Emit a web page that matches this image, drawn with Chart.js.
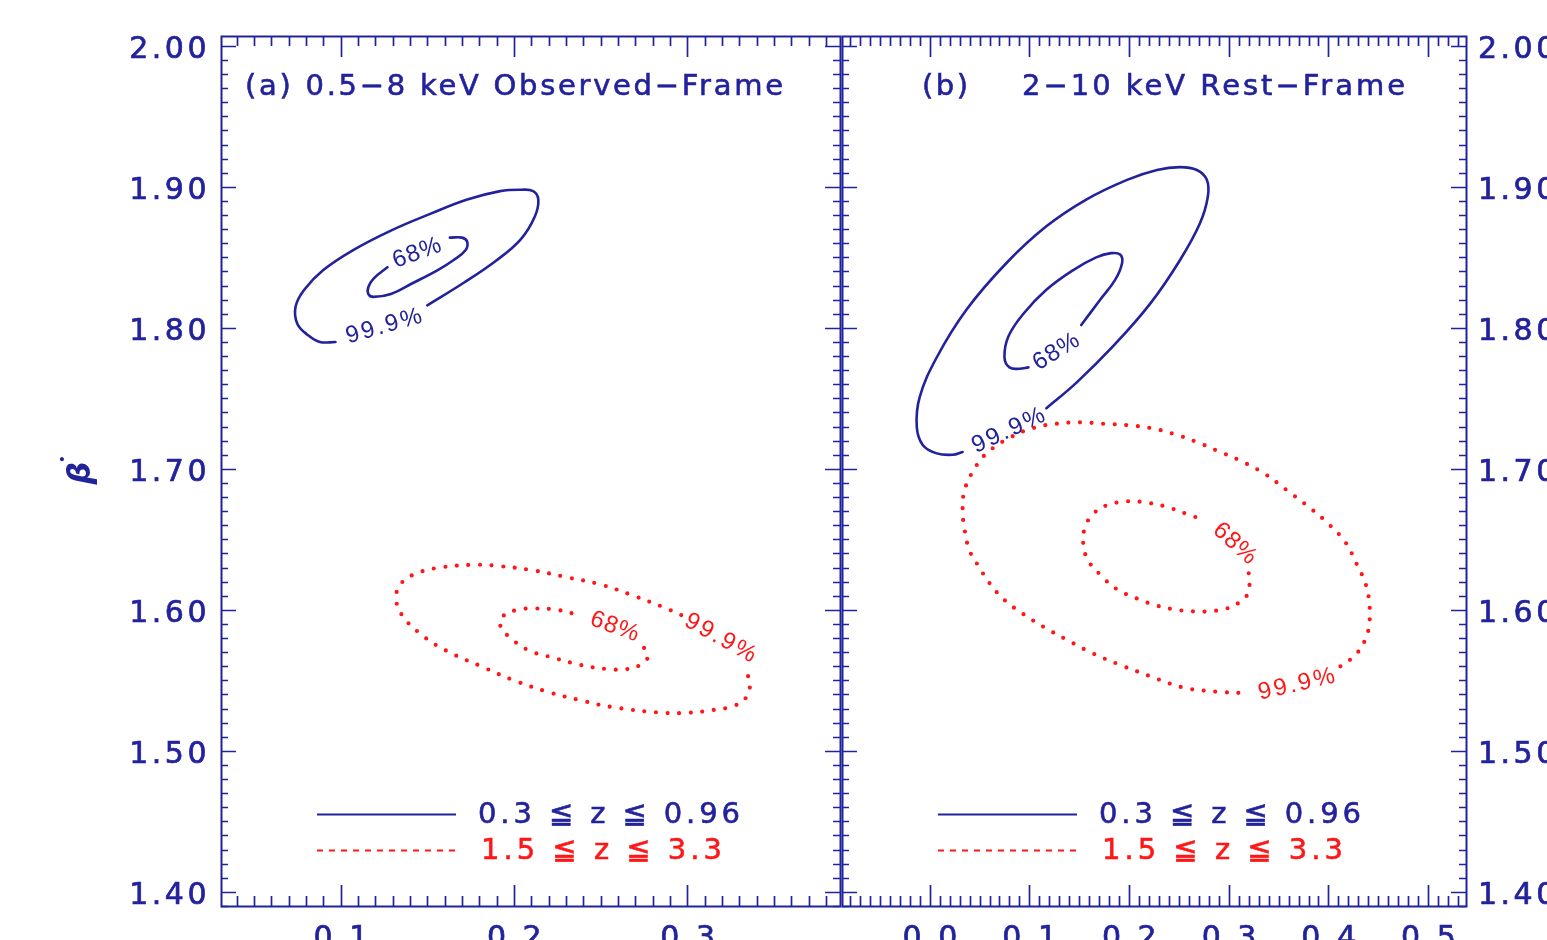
<!DOCTYPE html>
<html>
<head>
<meta charset="utf-8">
<script src="https://cdn.jsdelivr.net/npm/chart.js@4"></script>
<style>
  html, body { margin: 0; padding: 0; background: #ffffff; }
  #wrap { position: relative; width: 1547px; height: 940px; overflow: hidden; background: #ffffff; }
  #wrap canvas { position: absolute; left: 0; top: 0; pointer-events: none; }
</style>
</head>
<body>
<div id="wrap">
  <canvas id="panelA" width="1547" height="940"></canvas>
  <canvas id="panelB" width="1547" height="940"></canvas>
</div>
<script>
// ---------------- axes ----------------
const yTicks  = [1.40, 1.50, 1.60, 1.70, 1.80, 1.90, 2.00];
const xTicksA = [0.1, 0.2, 0.3];
const xTicksB = [0.0, 0.1, 0.2, 0.3, 0.4, 0.5];
const yRange  = [1.39, 2.007];
const xRangeA = [0.031, 0.388];
const xRangeB = [-0.088, 0.538];

// ---------------- (a) 0.5-8 keV observed frame ----------------
// 0.3 <= z <= 0.96
const obsLowZ999X = [0.150,0.171,0.190,0.204,0.212,0.214,0.211,0.204,0.192,0.173,0.152,0.129,0.107,0.090,0.079,0.074,0.075,0.081,0.088,0.097];
const obsLowZ999Y = [1.816,1.832,1.848,1.863,1.879,1.891,1.897,1.898,1.897,1.891,1.881,1.869,1.855,1.841,1.827,1.815,1.803,1.795,1.790,1.790];
const obsLowZ68X  = [0.163,0.170,0.173,0.172,0.165,0.156,0.142,0.129,0.119,0.116,0.116,0.119,0.127];
const obsLowZ68Y  = [1.864,1.864,1.861,1.855,1.848,1.841,1.832,1.824,1.822,1.824,1.829,1.835,1.843];
// 1.5 <= z <= 3.3
const obsHighZ999X = [0.335,0.336,0.334,0.327,0.315,0.300,0.286,0.257,0.238,0.219,0.200,0.181,0.161,0.146,0.135,0.132,0.135,0.144,0.157,0.177,0.192,0.211,0.231,0.250,0.269,0.286,0.297];
const obsHighZ999Y = [1.553,1.545,1.538,1.532,1.529,1.527,1.527,1.531,1.536,1.542,1.550,1.560,1.571,1.583,1.597,1.609,1.619,1.626,1.630,1.632,1.631,1.628,1.623,1.618,1.610,1.602,1.596];
const obsHighZ68X  = [0.275,0.277,0.273,0.265,0.254,0.238,0.223,0.209,0.198,0.192,0.194,0.202,0.211,0.225,0.238];
const obsHighZ68Y  = [1.573,1.566,1.561,1.558,1.558,1.561,1.566,1.571,1.580,1.589,1.596,1.600,1.601,1.600,1.596];

// ---------------- (b) 2-10 keV rest frame ----------------
const restLowZ999X = [0.117,0.147,0.184,0.221,0.251,0.271,0.279,0.278,0.268,0.251,0.228,0.198,0.157,0.117,0.077,0.037,0.007,-0.010,-0.013,-0.007,0.007,0.023,0.033];
const restLowZ999Y = [1.743,1.761,1.787,1.817,1.848,1.874,1.893,1.905,1.912,1.914,1.912,1.905,1.891,1.872,1.846,1.813,1.779,1.751,1.730,1.717,1.711,1.710,1.712];
const restLowZ68X  = [0.152,0.171,0.186,0.193,0.191,0.182,0.167,0.144,0.117,0.094,0.079,0.075,0.080,0.090,0.099];
const restLowZ68Y  = [1.802,1.820,1.834,1.846,1.852,1.853,1.850,1.841,1.827,1.810,1.794,1.779,1.772,1.771,1.772];
const restHighZ999X = [0.412,0.427,0.437,0.441,0.441,0.437,0.428,0.417,0.400,0.382,0.358,0.335,0.311,0.288,0.268,0.244,0.221,0.198,0.174,0.151,0.127,0.104,0.080,0.057,0.044,0.035,0.033,0.035,0.040,0.049,0.060,0.075,0.094,0.114,0.137,0.164,0.191,0.221,0.254,0.288,0.315];
const restHighZ999Y = [1.560,1.568,1.579,1.590,1.605,1.619,1.633,1.648,1.661,1.672,1.685,1.697,1.706,1.713,1.719,1.725,1.729,1.731,1.732,1.733,1.732,1.729,1.722,1.711,1.699,1.685,1.671,1.657,1.642,1.631,1.619,1.607,1.597,1.588,1.579,1.569,1.561,1.553,1.545,1.542,1.541];
const restHighZ68X  = [0.320,0.321,0.318,0.310,0.298,0.281,0.264,0.248,0.228,0.208,0.187,0.171,0.159,0.154,0.156,0.164,0.177,0.198,0.218,0.238,0.258,0.274];
const restHighZ68Y  = [1.626,1.619,1.610,1.605,1.601,1.599,1.599,1.600,1.603,1.608,1.615,1.625,1.635,1.647,1.659,1.668,1.674,1.677,1.676,1.673,1.668,1.664];

// contour level labels: text, anchor (data units)
const levelText    = ['68%', '99.9%', '68%', '99.9%'];
const obsLabelX    = [0.144, 0.125, 0.258, 0.319];
const obsLabelY    = [1.853, 1.801, 1.588, 1.580];
const restLabelX   = [0.127, 0.079, 0.306, 0.368];
const restLabelY   = [1.783, 1.727, 1.647, 1.547];

const legendText = ['0.3 \u2266 z \u2266 0.96', '1.5 \u2266 z \u2266 3.3'];
const titleA = '(a) 0.5\u22128 keV Observed\u2212Frame';
const titleB = ['(b)', '2\u221210 keV Rest\u2212Frame'];
const yTitle = '\u03B2';

// ---------------- styling ----------------
const BLUE = 'rgb(34,34,156)';
const RED  = 'rgb(255,22,22)';
const TICK_FONT = '"DejaVu Sans", sans-serif';

function pts(xs, ys) { return xs.map((x, i) => ({ x: x, y: ys[i] })); }

function contour(xs, ys, color, dotted) {
  return {
    data: pts(xs, ys),
    showLine: true,
    borderColor: color,
    backgroundColor: color,
    borderWidth: dotted ? 4.2 : 2.6,
    borderDash: dotted ? [0, 11.6] : [],
    borderCapStyle: 'round',
    borderJoinStyle: 'round',
    tension: 0.4,
    pointRadius: 0,
    pointHoverRadius: 0,
    fill: false
  };
}

// text with letter spacing stretched to a given visible width
function fitText(ctx, text, x, y, width, font, color, stroke) {
  ctx.font = font;
  ctx.letterSpacing = '0px';
  const w0 = ctx.measureText(text).width;
  const n = Array.from(text).length;
  const ls = n > 1 ? (width - w0) / (n - 1) : 0;
  ctx.letterSpacing = ls + 'px';
  ctx.fillStyle = color;
  ctx.textAlign = 'left';
  ctx.fillText(text, x, y);
  if (stroke) {
    ctx.strokeStyle = color;
    ctx.lineWidth = stroke;
    ctx.strokeText(text, x, y);
  }
  ctx.letterSpacing = '0px';
}

function rotatedLabel(ctx, text, px, py, deg, width, color) {
  ctx.save();
  ctx.translate(px, py);
  ctx.rotate(deg * Math.PI / 180);
  ctx.textBaseline = 'middle';
  fitText(ctx, text, -width / 2, 0, width, '24px "Liberation Sans", sans-serif', color, 0);
  ctx.restore();
}

// inward tick marks on all four sides plus the box
const framePlugin = {
  id: 'idlFrame',
  beforeDraw(chart) { chart.ctx.letterSpacing = '3.5px'; },
  afterDatasetsDraw(chart) {
    const ctx = chart.ctx;
    const a = chart.chartArea;
    const xs = chart.scales.x, ys = chart.scales.y;
    ctx.save();
    ctx.letterSpacing = '0px';
    ctx.strokeStyle = BLUE;
    ctx.lineWidth = 1.7;
    ctx.beginPath();
    const i0 = Math.ceil(xs.min / 0.01 - 1e-6), i1 = Math.floor(xs.max / 0.01 + 1e-6);
    for (let i = i0; i <= i1; i++) {
      const px = Math.round(xs.getPixelForValue(i * 0.01)) + 0.5;
      const len = (i % 10 === 0) ? 21 : 10;
      ctx.moveTo(px, a.bottom); ctx.lineTo(px, a.bottom - len);
      ctx.moveTo(px, a.top);    ctx.lineTo(px, a.top + len);
    }
    const j0 = Math.ceil(ys.min / 0.01 - 1e-6), j1 = Math.floor(ys.max / 0.01 + 1e-6);
    for (let j = j0; j <= j1; j++) {
      const py = Math.round(ys.getPixelForValue(j * 0.01)) + 0.5;
      const len = (j % 10 === 0) ? 15 : 7;
      ctx.moveTo(a.left, py);  ctx.lineTo(a.left + len, py);
      ctx.moveTo(a.right, py); ctx.lineTo(a.right - len, py);
    }
    ctx.stroke();
    ctx.lineWidth = 2;
    ctx.strokeRect(Math.round(a.left) + 0.5, Math.round(a.top) + 0.5,
                   Math.round(a.right - a.left), Math.round(a.bottom - a.top));
    ctx.restore();
  },
  afterDraw(chart) { chart.ctx.letterSpacing = '0px'; }
};

// titles, legend, level labels
const textPlugin = {
  id: 'panelText',
  afterDraw(chart, args, opts) {
    const ctx = chart.ctx;
    const a = chart.chartArea;
    const xs = chart.scales.x, ys = chart.scales.y;
    ctx.save();
    ctx.textBaseline = 'alphabetic';
    const titleFont = '29px ' + TICK_FONT;
    if (opts.panel === 'a') {
      fitText(ctx, titleA, a.left + 24, 95, 538, titleFont, BLUE, 0.6);
    } else {
      fitText(ctx, titleB[0], a.left + 80, 95, 46, titleFont, BLUE, 0.6);
      fitText(ctx, titleB[1], a.left + 180, 95, 383, titleFont, BLUE, 0.6);
    }

    // legend
    ctx.lineWidth = 1.8;
    ctx.strokeStyle = BLUE;
    ctx.setLineDash([]);
    ctx.beginPath();
    ctx.moveTo(a.left + 96, 814.5); ctx.lineTo(a.left + 235, 814.5);
    ctx.stroke();
    ctx.strokeStyle = RED;
    ctx.setLineDash([6, 6]);
    ctx.beginPath();
    ctx.moveTo(a.left + 96, 850.5); ctx.lineTo(a.left + 235, 850.5);
    ctx.stroke();
    ctx.setLineDash([]);
    ctx.textBaseline = 'middle';
    const legFont = '29px ' + TICK_FONT;
    fitText(ctx, legendText[0], a.left + 257, 815, 262, legFont, BLUE, 0.6);
    fitText(ctx, legendText[1], a.left + 260, 851, 241, legFont, RED, 0.6);

    // contour level labels
    const lx = opts.panel === 'a' ? obsLabelX : restLabelX;
    const ly = opts.panel === 'a' ? obsLabelY : restLabelY;
    const ang = opts.panel === 'a' ? [-20, -16, 20, 29] : [-32, -25, 42, -13];
    for (let k = 0; k < levelText.length; k++) {
      const color = k < 2 ? BLUE : RED;
      const w = levelText[k] === '68%' ? 50 : 78;
      rotatedLabel(ctx, levelText[k], xs.getPixelForValue(lx[k]), ys.getPixelForValue(ly[k]), ang[k], w, color);
    }

    // y-axis title
    if (opts.panel === 'a') {
      ctx.translate(a.left - 139, (a.top + a.bottom) / 2 + 2);
      ctx.rotate(-Math.PI / 2);
      ctx.fillStyle = BLUE;
      ctx.textAlign = 'center';
      ctx.textBaseline = 'middle';
      ctx.font = 'italic bold 32px ' + TICK_FONT;
      ctx.fillText(yTitle, 0, 0);
      ctx.font = '14px ' + TICK_FONT;
      ctx.fillText('\u2022', 14, -19);
    }
    ctx.restore();
  }
};

function makeScales(xRange, xTicks, yPos, yWidth) {
  return {
    x: {
      type: 'linear', min: xRange[0], max: xRange[1],
      afterBuildTicks: s => { s.ticks = xTicks.map(v => ({ value: v })); },
      afterFit: s => { s.height = 34; },
      grid: { display: false, drawTicks: false },
      border: { display: false },
      ticks: {
        autoSkip: false, maxRotation: 0, padding: 15, labelOffset: 2,
        color: BLUE, font: { family: TICK_FONT, size: 30 },
        textStrokeColor: BLUE, textStrokeWidth: 0.7,
        callback: v => v.toFixed(1)
      }
    },
    y: {
      type: 'linear', position: yPos, min: yRange[0], max: yRange[1],
      afterBuildTicks: s => { s.ticks = yTicks.map(v => ({ value: v })); },
      afterFit: s => { s.width = yWidth; },
      grid: { display: false, drawTicks: false },
      border: { display: false },
      ticks: {
        autoSkip: false, padding: yPos === 'left' ? 11 : 12, labelOffset: 4,
        color: BLUE, font: { family: TICK_FONT, size: 30 },
        textStrokeColor: BLUE, textStrokeWidth: 0.7,
        callback: v => v.toFixed(2)
      }
    }
  };
}

function commonOptions(panel, padding, scales) {
  return {
    responsive: false,
    animation: false,
    devicePixelRatio: 1,
    layout: { padding: padding },
    events: [],
    plugins: {
      legend: { display: false },
      tooltip: { enabled: false },
      panelText: { panel: panel }
    },
    scales: scales
  };
}

new Chart(document.getElementById('panelA'), {
  type: 'scatter',
  data: {
    datasets: [
      contour(obsLowZ999X, obsLowZ999Y, BLUE, false),
      contour(obsLowZ68X, obsLowZ68Y, BLUE, false),
      contour(obsHighZ999X, obsHighZ999Y, RED, true),
      contour(obsHighZ68X, obsHighZ68Y, RED, true)
    ]
  },
  options: commonOptions('a', { left: 0, right: 707, top: 36, bottom: 0 },
                         makeScales(xRangeA, xTicksA, 'left', 221)),
  plugins: [framePlugin, textPlugin]
});

new Chart(document.getElementById('panelB'), {
  type: 'scatter',
  data: {
    datasets: [
      contour(restLowZ999X, restLowZ999Y, BLUE, false),
      contour(restLowZ68X, restLowZ68Y, BLUE, false),
      contour(restHighZ999X, restHighZ999Y, RED, true),
      contour(restHighZ68X, restHighZ68Y, RED, true)
    ]
  },
  options: commonOptions('b', { left: 842, right: 0, top: 36, bottom: 0 },
                         makeScales(xRangeB, xTicksB, 'right', 81)),
  plugins: [framePlugin, textPlugin]
});
</script>
</body>
</html>
